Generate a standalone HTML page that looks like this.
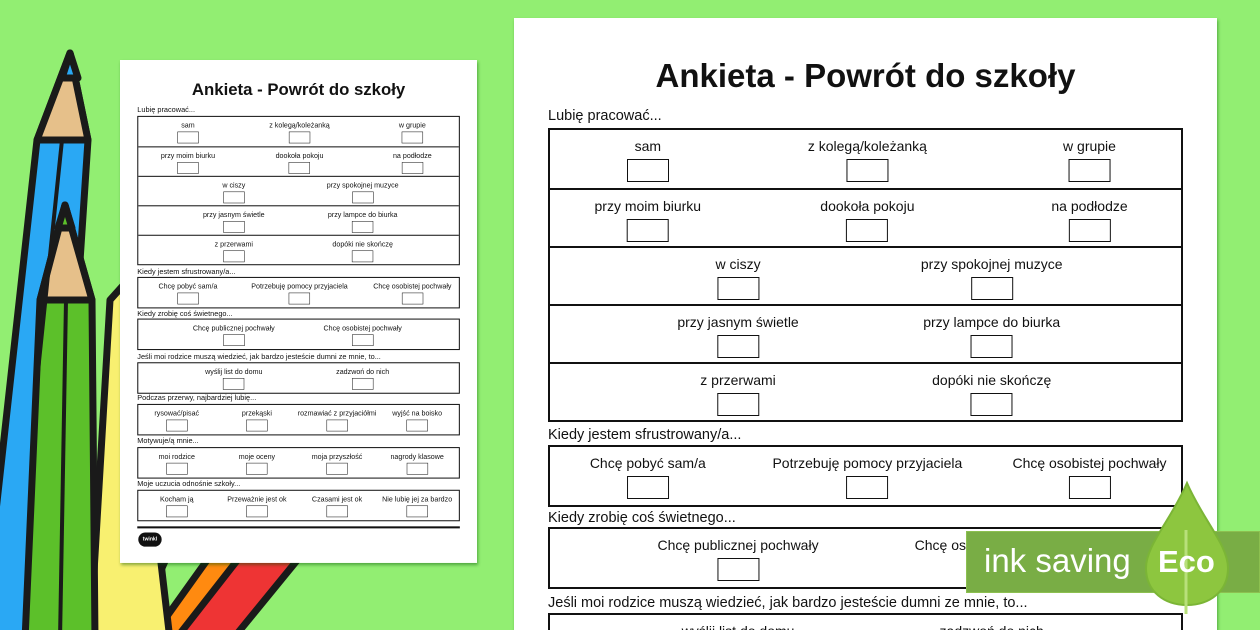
<!DOCTYPE html>
<html style="width:1260px;height:630px;overflow:hidden"><head><meta charset="utf-8"><style>
*{margin:0;padding:0;box-sizing:border-box}
body{width:1260px;height:630px;overflow:hidden;background:#92ee72;position:relative;font-family:"Liberation Sans",sans-serif;color:#111}
.page{position:absolute;background:#fff;width:703px;height:990px;box-shadow:1px 2px 3px rgba(0,80,0,.45);overflow:hidden}
.t{position:absolute;left:0;width:703px;text-align:center;font-size:33px;font-weight:bold;top:39px}
.h{position:absolute;left:34px;font-size:14.5px;line-height:18px}
.box{position:absolute;left:34px;width:635px;border:2px solid #111}
.row{position:relative;height:58px;border-top:2px solid #111}
.row:first-child{border-top:none}
.it{position:absolute;top:7px;transform:translateX(-50%);text-align:center;white-space:nowrap;font-size:14px;line-height:18px}
.it i{display:block;margin:4px auto 0;width:42px;height:23px;border:1.5px solid #111}
.ft{position:absolute;left:34px;width:635px;top:918px;border-top:4px solid #111}
.logo{position:absolute;left:36px;top:930px;width:46px;height:28px;background:#111;border-radius:14px;color:#fff;font-size:10px;font-weight:bold;text-align:center;line-height:28px}
</style></head><body>
<svg width="340" height="630" style="position:absolute;left:0;top:0" stroke="#1a1a1a" stroke-width="7" stroke-linejoin="round">
<polygon points="150,640 250,500 300,530 200,640" fill="#ff8a10"/>
<polygon points="175,640 300,480 330,520 232,640" fill="#ee3434"/>
<polygon points="60,640 140,420 210,460 130,640" fill="#b03cf0"/>
<polygon points="90,640 110,300 128,280 170,640" fill="#f8f070"/>
<polygon points="70,53 37,140 -5,520 -5,640 55,640 88,140" fill="#2aa8f4"/>
<polygon points="70,53 37,140 88,140" fill="#e6c08a"/>
<polygon points="70,53 62,78 78,78" fill="#2aa8f4"/>
<polygon points="65,205 40,300 25,640 95,640 92,300" fill="#5cc02a"/>
<polygon points="65,205 40,300 92,300" fill="#e6c08a"/>
<polygon points="65,205 58,228 72,228" fill="#5cc02a"/>
<line x1="66" y1="300" x2="60" y2="640" stroke-width="4"/>
<line x1="62" y1="140" x2="35" y2="400" stroke-width="4"/>
</svg>

<div id="sw" style="position:absolute;left:120px;top:60px;width:357px;height:503px;overflow:hidden;box-shadow:1px 2px 3px rgba(0,80,0,.45)"></div>

<div class="page" id="big" style="left:514px;top:18px">
<div class="t">Ankieta - Powrót do szkoły</div>
<div class="h" style="top:89px">Lubię pracować...</div>
<div class="box" style="top:110px">
 <div class="row"><div class="it" style="left:15.5%">sam<i></i></div><div class="it" style="left:50.3%">z kolegą/koleżanką<i></i></div><div class="it" style="left:85.5%">w grupie<i></i></div></div>
 <div class="row"><div class="it" style="left:15.5%">przy moim biurku<i></i></div><div class="it" style="left:50.3%">dookoła pokoju<i></i></div><div class="it" style="left:85.5%">na podłodze<i></i></div></div>
 <div class="row"><div class="it" style="left:29.8%">w ciszy<i></i></div><div class="it" style="left:70%">przy spokojnej muzyce<i></i></div></div>
 <div class="row"><div class="it" style="left:29.8%">przy jasnym świetle<i></i></div><div class="it" style="left:70%">przy lampce do biurka<i></i></div></div>
 <div class="row"><div class="it" style="left:29.8%">z przerwami<i></i></div><div class="it" style="left:70%">dopóki nie skończę<i></i></div></div>
</div>
<div class="h" style="top:408px">Kiedy jestem sfrustrowany/a...</div>
<div class="box" style="top:427px">
 <div class="row"><div class="it" style="left:15.5%">Chcę pobyć sam/a<i></i></div><div class="it" style="left:50.3%">Potrzebuję pomocy przyjaciela<i></i></div><div class="it" style="left:85.5%">Chcę osobistej pochwały<i></i></div></div>
</div>
<div class="h" style="top:491px">Kiedy zrobię coś świetnego...</div>
<div class="box" style="top:509px">
 <div class="row"><div class="it" style="left:29.8%">Chcę publicznej pochwały<i></i></div><div class="it" style="left:70%">Chcę osobistej pochwały<i></i></div></div>
</div>
<div class="h" style="top:576px">Jeśli moi rodzice muszą wiedzieć, jak bardzo jesteście dumni ze mnie, to...</div>
<div class="box" style="top:595px">
 <div class="row"><div class="it" style="left:29.8%">wyślij list do domu<i></i></div><div class="it" style="left:70%">zadzwoń do nich<i></i></div></div>
</div>
<div class="h" style="top:656px">Podczas przerwy, najbardziej lubię...</div>
<div class="box" style="top:677px">
 <div class="row"><div class="it" style="left:12%">rysować/pisać<i></i></div><div class="it" style="left:37%">przekąski<i></i></div><div class="it" style="left:62%">rozmawiać z przyjaciółmi<i></i></div><div class="it" style="left:87%">wyjść na boisko<i></i></div></div>
</div>
<div class="h" style="top:741px">Motywuje/ą mnie...</div>
<div class="box" style="top:762px">
 <div class="row"><div class="it" style="left:12%">moi rodzice<i></i></div><div class="it" style="left:37%">moje oceny<i></i></div><div class="it" style="left:62%">moja przyszłość<i></i></div><div class="it" style="left:87%">nagrody klasowe<i></i></div></div>
</div>
<div class="h" style="top:826px">Moje uczucia odnośnie szkoły...</div>
<div class="box" style="top:846px">
 <div class="row"><div class="it" style="left:12%">Kocham ją<i></i></div><div class="it" style="left:37%">Przeważnie jest ok<i></i></div><div class="it" style="left:62%">Czasami jest ok<i></i></div><div class="it" style="left:87%">Nie lubię jej za bardzo<i></i></div></div>
</div>
<div class="ft"></div>
<div class="logo">twinkl</div>
</div>

<div style="position:absolute;left:966px;top:531px;width:294px;height:62px;background:#79ad45;border:1px solid #8cc050"></div>
<div style="position:absolute;left:984px;top:538px;color:#fff;font-size:33px;line-height:46px">ink saving</div>
<svg width="90" height="140" style="position:absolute;left:1143px;top:480px">
<path d="M44,3 C60,40 85,65 85,88 C85,112 66,125 44,125 C22,125 3,112 3,88 C3,65 28,40 44,3Z" fill="#8dc63f" stroke="#7bb536" stroke-width="2"/>
<line x1="43" y1="50" x2="43" y2="134" stroke="#b8e07a" stroke-width="3"/>
</svg>
<div style="position:absolute;left:1158px;top:540px;color:#fff;font-size:31px;font-weight:bold;line-height:44px">Eco</div>
<script>
var b=document.getElementById('big');var s=b.cloneNode(true);s.id='';
s.style.left='0px';s.style.top='0px';s.style.boxShadow='none';s.style.transformOrigin='0 0';s.style.transform='scale(0.508)';
document.getElementById('sw').appendChild(s);
b.style.height='612px';
</script>
</body></html>
